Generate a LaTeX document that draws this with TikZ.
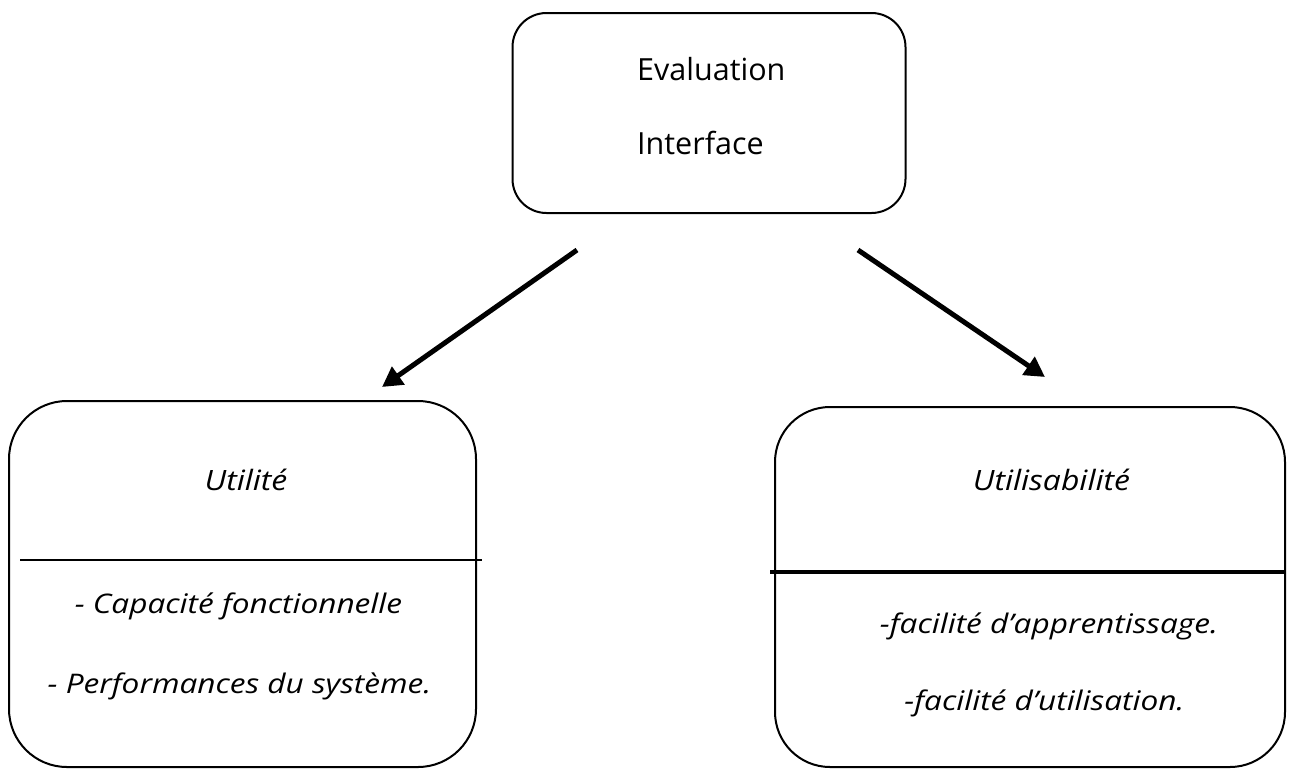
\documentclass[tikz,border=0pt]{standalone}
\usepackage{fontspec}
\setmainfont{Open Sans}
\usetikzlibrary{arrows.meta}
\newcommand{\wlbl}[1]{\scalebox{1.17}[1]{#1}}
\newcommand{\whead}[1]{\scalebox{1.14}[1]{#1}}
\begin{document}
\begin{tikzpicture}[x=1pt,y=-1pt,
  box/.style={draw=black, line width=2pt, minimum width=#1},
  arr/.style={line width=5pt, -{Triangle[length=20pt,width=21pt]}},
  lbl/.style={font=\fontsize{27}{30}\selectfont\itshape, inner sep=0pt, anchor=base},
  head/.style={font=\fontsize{28}{31}\selectfont\itshape, inner sep=0pt, anchor=base},
  ttl/.style={font=\fontsize{30.5}{34}\selectfont, inner sep=0pt, anchor=base west}]
\useasboundingbox (0,0) rectangle (1301,769);
% top box
\node[box=393pt, minimum height=200pt, rounded corners=34pt] (top) at (709,113) {};
\node[ttl] (eval) at (637,80) {Evaluation};
\node[ttl] (intf) at (637,154) {Interface};
% left box
\node[box=467pt, minimum height=366pt, rounded corners=58pt] (left) at (242.5,584) {};
\node[head] (util) at (246,490) {\whead{Utilité}};
\node[lbl] (cap) at (238.5,613) {\wlbl{- Capacité fonctionnelle}};
\node[lbl] (perf) at (239.5,693) {\wlbl{- Performances du système.}};
\coordinate (l1) at (20,560);
\coordinate (l2) at (482,560);
\draw[line width=1.3pt] (l1) -- (l2);
% right box
\node[box=510pt, minimum height=360pt, rounded corners=55pt] (right) at (1030,587) {};
\node[head] (usab) at (1051.5,490) {\whead{Utilisabilité}};
\node[lbl] (appr) at (1049,633) {\wlbl{-facilité d’apprentissage.}};
\node[lbl] (usage) at (1044.5,710) {\wlbl{-facilité d’utilisation.}};
\coordinate (r1) at (770,572);
\coordinate (r2) at (1286,572);
\draw[line width=4pt] (r1) -- (r2);
% arrows
\coordinate (a1s) at (577,250);
\coordinate (a1e) at (382,387);
\coordinate (a2s) at (858,250);
\coordinate (a2e) at (1045,377);
\draw[arr] (a1s) -- (a1e);
\draw[arr] (a2s) -- (a2e);
\end{tikzpicture}
\end{document}
